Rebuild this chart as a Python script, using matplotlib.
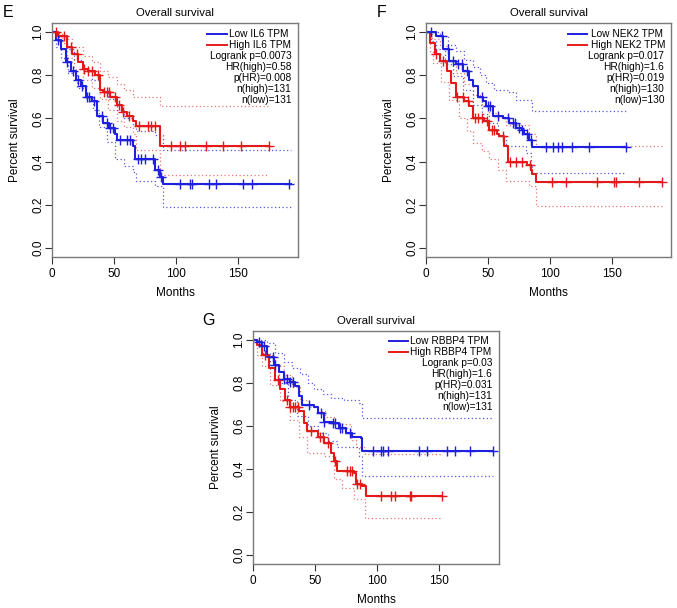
"""
Kaplan-Meier overall survival panels (E, F, G)
"""
import numpy as np
import matplotlib
matplotlib.use('Agg')
import matplotlib.pyplot as plt

plt.rcParams['font.family'] = ['Liberation Sans', 'DejaVu Sans']

LOW_COL = '#1f1fe0'
HIGH_COL = '#e41a1a'

# ---- Panel E: IL6 ----  (time in months, survival level after the step)
e_low = [(0, 1.0), (3, 0.965), (7, 0.92), (11, 0.86), (15, 0.82), (19, 0.78), (23, 0.75),
         (27, 0.70), (32, 0.68), (36, 0.61), (41, 0.58), (45.5, 0.555), (51, 0.53), (52, 0.50),
         (63, 0.50), (65.5, 0.47), (67, 0.41), (79, 0.41), (83, 0.363), (87, 0.33),
         (89.5, 0.296), (192, 0.296)]
e_low_hi = [(0, 1.0), (6, 0.96), (12, 0.92), (18, 0.87), (25, 0.82), (32, 0.78), (39, 0.73),
            (45, 0.69), (52, 0.64), (58, 0.60), (65, 0.563), (68, 0.54), (83, 0.525),
            (89.5, 0.455), (192, 0.455)]
e_low_lo = [(0, 1.0), (3, 0.93), (7, 0.88), (13, 0.81), (20, 0.74), (27, 0.69), (33, 0.64),
            (38, 0.56), (44, 0.49), (51, 0.41), (58, 0.38), (65, 0.35), (68, 0.31),
            (83, 0.285), (89.5, 0.19), (192, 0.19)]
e_high = [(0, 1.0), (5, 0.98), (12, 0.93), (16, 0.90), (21, 0.86), (25, 0.83), (29, 0.82),
          (35, 0.80), (39, 0.73), (41, 0.72), (47, 0.70), (52, 0.66), (56, 0.63), (60, 0.61),
          (65.5, 0.59), (68, 0.563), (87, 0.473), (175, 0.473)]
e_high_hi = [(0, 1.0), (8, 0.97), (16, 0.93), (25, 0.89), (32, 0.86), (39, 0.82), (45, 0.79),
             (52, 0.76), (58, 0.73), (65, 0.70), (87, 0.656), (175, 0.656)]
e_high_lo = [(0, 1.0), (5, 0.95), (12, 0.88), (18, 0.83), (25, 0.78), (32, 0.74), (39, 0.69),
             (45, 0.64), (52, 0.59), (58, 0.56), (65, 0.53), (68, 0.455), (87, 0.34),
             (175, 0.34)]
e_low_cens = [5, 12, 17, 21, 24, 28, 30, 34, 40, 44, 47, 49, 55, 60, 63, 69, 72, 75, 81, 85,
              88, 103, 111, 113, 126, 132, 154, 161, 191]
e_high_cens = [3, 10, 15, 20, 26, 29, 32, 37, 42, 44, 46, 51, 54, 57, 62, 70, 77.5, 80, 83,
               96, 103, 107, 124, 138, 152, 175]
e_stats = ['Logrank p=0.0073', 'HR(high)=0.58', 'p(HR)=0.008', 'n(high)=131', 'n(low)=131']

# ---- Panel F: NEK2 ----
f_low = [(0, 1.0), (6, 1.0), (8.5, 0.98), (14, 0.92), (19, 0.864), (24.6, 0.85), (30, 0.82),
         (35, 0.78), (38, 0.75), (42, 0.70), (46, 0.68), (48.7, 0.656), (54, 0.61), (62, 0.60),
         (67, 0.58), (73, 0.556), (78, 0.548), (79, 0.53), (83.4, 0.50), (85.6, 0.468),
         (161.5, 0.468)]
f_low_hi = [(0, 1.0), (11, 0.98), (18, 0.94), (24.6, 0.91), (31, 0.87), (38, 0.84),
            (44, 0.80), (48.7, 0.764), (55, 0.733), (66, 0.72), (73, 0.687), (85, 0.67),
            (86, 0.636), (161.5, 0.636)]
f_low_lo = [(0, 1.0), (4, 0.96), (8.5, 0.92), (15, 0.85), (22, 0.795), (30, 0.73),
            (38, 0.664), (45, 0.62), (51, 0.58), (58, 0.52), (65, 0.47), (81, 0.44),
            (85, 0.378), (86, 0.347), (161.5, 0.347)]
f_high = [(0, 1.0), (3, 0.95), (7, 0.90), (11, 0.864), (16.6, 0.82), (20.6, 0.764),
          (24.6, 0.70), (31, 0.68), (35, 0.656), (38, 0.60), (47, 0.586), (51, 0.548),
          (57, 0.53), (59, 0.517), (63, 0.47), (66, 0.40), (81, 0.40), (82, 0.385),
          (85, 0.363), (86, 0.344), (89, 0.304), (191, 0.304)]
f_high_hi = [(0, 1.0), (5, 0.97), (11, 0.934), (18, 0.87), (24.6, 0.81), (31, 0.76),
             (38, 0.71), (45, 0.66), (51, 0.625), (58, 0.60), (65, 0.57), (83, 0.53),
             (89, 0.474), (191, 0.474)]
f_high_lo = [(0, 1.0), (3, 0.91), (6, 0.856), (12, 0.77), (19, 0.687), (27, 0.60),
             (33, 0.54), (38, 0.486), (45, 0.45), (51, 0.41), (58, 0.36), (65, 0.31),
             (83, 0.286), (89, 0.196), (191, 0.196)]
f_low_cens = [4, 13, 18, 22, 26, 29, 33, 45, 50, 52, 58, 66, 70, 72, 75, 78, 82, 85,
              97, 103, 107, 109.6, 118, 131.5, 161.5]
f_high_cens = [8, 14, 25, 30, 34, 40, 42, 45, 49, 53, 55, 62, 68, 73, 78, 84,
               102, 113, 138, 152, 153.5, 172.5, 191]
f_stats = ['Logrank p=0.017', 'HR(high)=1.6', 'p(HR)=0.019', 'n(high)=130', 'n(low)=130']

# ---- Panel G: RBBP4 ----
g_low = [(0, 1.0), (3, 0.99), (7.3, 0.97), (11.4, 0.92), (16.8, 0.884), (20.8, 0.853),
         (24.9, 0.82), (30, 0.807), (34, 0.784), (37, 0.738), (39.7, 0.70), (49, 0.69),
         (52, 0.66), (57, 0.62), (64, 0.614), (69.5, 0.59), (75, 0.568), (80, 0.55),
         (87, 0.545), (88, 0.483), (193, 0.483)]
g_low_hi = [(0, 1.0), (11.4, 0.985), (18, 0.94), (24.9, 0.90), (31, 0.87), (38, 0.84),
            (44, 0.80), (49, 0.77), (56, 0.75), (62.7, 0.73), (73.5, 0.72), (85.7, 0.707),
            (88, 0.637), (193, 0.637)]
g_low_lo = [(0, 1.0), (3, 0.97), (7.3, 0.94), (14, 0.87), (20.8, 0.80), (28, 0.72),
            (35.7, 0.645), (44, 0.60), (52, 0.568), (60, 0.53), (68, 0.50), (85.7, 0.46),
            (88, 0.367), (193, 0.367)]
g_high = [(0, 1.0), (3, 0.977), (7.3, 0.93), (12.7, 0.87), (18, 0.815), (22, 0.77),
          (26, 0.72), (30, 0.69), (37, 0.668), (41, 0.614), (43.8, 0.575), (52, 0.55),
          (57, 0.52), (62.7, 0.475), (65.4, 0.437), (68, 0.39), (81.6, 0.383), (83, 0.33),
          (88, 0.32), (91, 0.275), (152, 0.275)]
g_high_hi = [(0, 1.0), (5, 0.97), (11.4, 0.93), (18, 0.88), (24.9, 0.838), (31, 0.78),
             (38, 0.72), (45, 0.69), (52, 0.668), (58, 0.64), (65, 0.607), (79, 0.537),
             (83, 0.50), (90, 0.468), (152, 0.468)]
g_high_lo = [(0, 1.0), (3, 0.93), (7.3, 0.877), (14, 0.79), (22, 0.715), (30, 0.63),
             (37, 0.55), (43.8, 0.475), (57, 0.46), (65.4, 0.352), (72, 0.31), (81.6, 0.26),
             (90, 0.174), (152, 0.174)]
g_low_cens = [5, 9, 16, 18, 25, 27, 30, 32, 45, 55, 57, 64, 66, 70, 72, 78,
              96.5, 103, 105, 108.6, 134, 140, 156, 162.7, 175, 193]
g_high_cens = [10, 20, 27, 30, 32, 34, 36, 47, 54, 56, 60, 66, 76, 78, 80, 84, 86,
               103, 111, 114.6, 126, 127, 152]
g_stats = ['Logrank p=0.03', 'HR(high)=1.6', 'p(HR)=0.031', 'n(high)=131', 'n(low)=131']


def step(ax, pts, color, **kw):
    t, s = zip(*pts)
    ax.plot(t, s, drawstyle='steps-post', color=color, **kw)


def censor(ax, pts, times, color):
    t = np.array([p[0] for p in pts])
    s = np.array([p[1] for p in pts])
    idx = np.searchsorted(t, times, side='right') - 1
    ax.plot(times, s[idx], linestyle='none', marker='+', markersize=6.5,
            markeredgewidth=1.0, color=color)


def panel(fig, rect, letter, gene, low, low_hi, low_lo, high, high_hi, high_lo,
          low_cens, high_cens, stats, leg_x):
    ax = fig.add_axes(rect)
    for ci in (low_hi, low_lo):
        step(ax, ci, LOW_COL, lw=0.9, linestyle=(0, (1, 2)), alpha=0.75)
    for ci in (high_hi, high_lo):
        step(ax, ci, HIGH_COL, lw=0.9, linestyle=(0, (1, 2)), alpha=0.6)
    step(ax, high, HIGH_COL, lw=1.5)
    step(ax, low, LOW_COL, lw=1.5)
    censor(ax, high, high_cens, HIGH_COL)
    censor(ax, low, low_cens, LOW_COL)

    ax.set_xlim(0, 198)
    ax.set_ylim(-0.042, 1.042)
    ax.set_xticks([0, 50, 100, 150])
    ax.set_yticks([0.0, 0.2, 0.4, 0.6, 0.8, 1.0])
    ax.set_yticklabels(['0.0', '0.2', '0.4', '0.6', '0.8', '1.0'], rotation=90, va='center')
    ax.tick_params(direction='out', length=5, width=0.8, colors='#333333',
                   labelcolor='black', labelsize=8.5)
    ax.tick_params(axis='x', pad=3)
    ax.tick_params(axis='y', pad=0.5)
    for sp in ax.spines.values():
        sp.set_color('#7a7a7a')
        sp.set_linewidth(1.0)
    ax.set_xlabel('Months', fontsize=8.5)
    ax.set_ylabel('Percent survival', fontsize=8.5)
    ax.xaxis.set_label_coords(0.5, -0.128)
    ax.yaxis.set_label_coords(-0.127, 0.5)
    ax.set_title('Overall survival', fontsize=8.2, pad=5)

    # legend: two line entries, then right-aligned stats
    x0, x1, xt = leg_x
    y0, dy = 0.955, 0.047
    entries = [(f'Low {gene} TPM', LOW_COL), (f'High {gene} TPM', HIGH_COL)]
    for i, (lab, col) in enumerate(entries):
        y = y0 - i * dy
        ax.plot([x0, x1], [y, y], color=col, lw=1.4, transform=ax.transAxes)
        ax.text(xt, y, lab, transform=ax.transAxes, ha='left', va='center', fontsize=7.3)
    for j, txt in enumerate(stats):
        ax.text(0.973, y0 - (j + 2) * dy, txt, transform=ax.transAxes,
                ha='right', va='center', fontsize=7.3)

    fig.text(rect[0] - 0.065, rect[1] + rect[3] + 0.018, letter, fontsize=11.5,
             ha='center', va='center')
    return ax


fig = plt.figure(figsize=(6.77, 6.08), dpi=100)

panel(fig, [0.0768, 0.5773, 0.3634, 0.3849], 'E', 'IL6',
      e_low, e_low_hi, e_low_lo, e_high, e_high_hi, e_high_lo,
      e_low_cens, e_high_cens, e_stats, (0.63, 0.711, 0.72))
panel(fig, [0.6292, 0.5773, 0.3619, 0.3849], 'F', 'NEK2',
      f_low, f_low_hi, f_low_lo, f_high, f_high_hi, f_high_lo,
      f_low_cens, f_high_cens, f_stats, (0.58, 0.657, 0.672))
panel(fig, [0.3737, 0.0724, 0.3634, 0.3832], 'G', 'RBBP4',
      g_low, g_low_hi, g_low_lo, g_high, g_high_hi, g_high_lo,
      g_low_cens, g_high_cens, g_stats, (0.553, 0.63, 0.64))

fig.savefig('out.png', dpi=100)
